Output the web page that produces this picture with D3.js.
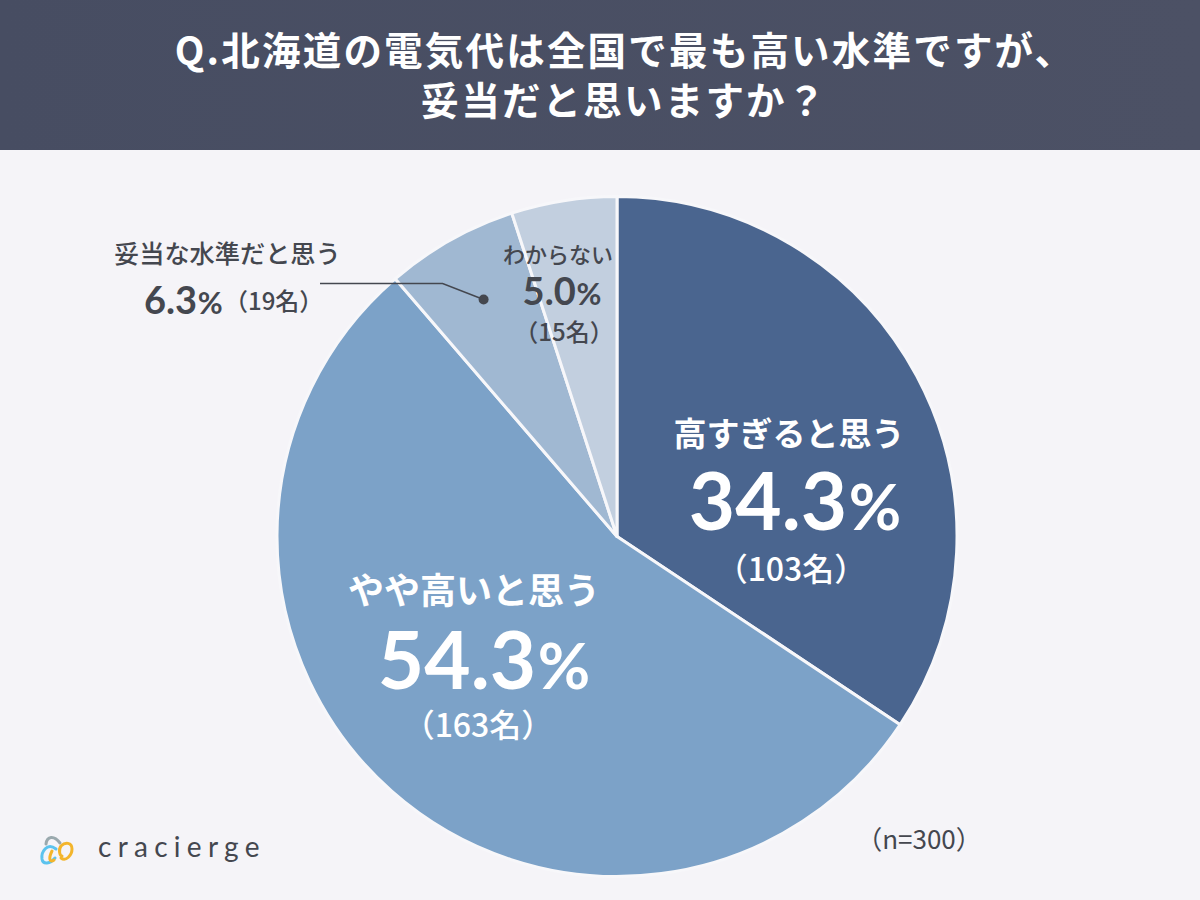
<!DOCTYPE html>
<html lang="ja">
<head>
<meta charset="utf-8">
<script src="https://cdn.jsdelivr.net/npm/d3@7/dist/d3.min.js"></script>
<style>
  html, body { margin: 0; padding: 0; background: #f5f4f8; }
  svg { display: block; }
  text { font-family: "Noto Sans CJK JP", "Noto Sans", sans-serif; font-weight: 500; }
  .pct { font-family: Lato, "Noto Sans", sans-serif; font-weight: 700; }
</style>
</head>
<body>
<svg id="chart" width="1200" height="900"></svg>
<script>
// Survey results
const categories = ["高すぎると思う", "やや高いと思う", "妥当な水準だと思う", "わからない"];
const percents = [34.3, 54.3, 6.3, 5.0];
const counts = [103, 163, 19, 15];
const sliceColors = ["#4a658f", "#7ca2c8", "#a0b8d2", "#c2cfdf"];
const titleLines = ["Q.北海道の電気代は全国で最も高い水準ですが、", "妥当だと思いますか？"];
const sampleNote = "（n=300）";
const brandName = "cracierge";

const width = 1200, height = 900;
const cx = 617, cy = 536.5, radius = 340;
const ink = "#44474f";

const svg = d3.select("#chart").attr("viewBox", [0, 0, width, height]);

// Header band
const defs = svg.append("defs");
const headerGrad = defs.append("linearGradient").attr("id", "headerFill");
headerGrad.append("stop").attr("offset", "0%").attr("stop-color", "#474d62");
headerGrad.append("stop").attr("offset", "100%").attr("stop-color", "#4c5165");
svg.append("rect").attr("width", width).attr("height", 150).attr("fill", "url(#headerFill)");

svg.append("g").selectAll("text").data(titleLines).join("text")
  .attr("x", (d, i) => i === 0 ? 625 : 624)
  .attr("y", (d, i) => 65 + i * 50)
  .attr("text-anchor", "middle")
  .attr("fill", "#ffffff")
  .attr("font-size", 38.5)
  .attr("letter-spacing", 2.2)
  .style("font-weight", 700)
  .text(d => d);

// Pie, clockwise from twelve o'clock in the survey's order
const pie = d3.pie().sort(null).value(d => d);
const arcs = pie(percents);
const arc = d3.arc().innerRadius(0).outerRadius(radius);

const chart = svg.append("g").attr("transform", `translate(${cx},${cy})`);
chart.selectAll("path").data(arcs).join("path")
  .attr("d", arc)
  .attr("fill", (d, i) => sliceColors[i])
  .attr("stroke", "#f7f7fa")
  .attr("stroke-width", 3)
  .attr("stroke-linejoin", "round");

// Percentage with a smaller % sign
function pctText(parent, x, y, size, value, anchor) {
  const t = parent.append("text").attr("class", "pct").attr("x", x).attr("y", y)
    .attr("text-anchor", anchor).attr("font-size", size);
  t.append("tspan").text(value.toFixed(1));
  t.append("tspan").attr("font-size", size * 0.8).attr("dx", size * 0.02).text("%");
  return t;
}

// Stacked label: category, percentage, head count
function stacked(xs, ys, i, sizes, color, weight) {
  const g = svg.append("g").attr("text-anchor", "middle").attr("fill", color);
  g.append("text").attr("x", xs[0]).attr("y", ys[0]).attr("font-size", sizes[0])
    .style("font-weight", weight).text(categories[i]);
  pctText(g, xs[1], ys[1], sizes[1], percents[i], "middle");
  g.append("text").attr("x", xs[2]).attr("y", ys[2]).attr("font-size", sizes[2]).text(`（${counts[i]}名）`);
}

stacked([789, 795, 791], [446, 530, 581], 0, [33, 80, 32], "#ffffff", 700);
stacked([474, 484, 478], [604, 689, 737], 1, [36, 80, 32], "#ffffff", 700);
stacked([558, 562, 564], [263, 305, 341], 3, [22, 38, 24], ink, 500);

// Callout for the narrow slice
const lbl = svg.append("g").attr("fill", ink);
lbl.append("text").attr("x", 114).attr("y", 263).attr("font-size", 25.2).text(categories[2]);
pctText(lbl, 144, 314, 38, percents[2], "start");
lbl.append("text").attr("x", 224).attr("y", 310).attr("font-size", 24).text(`（${counts[2]}名）`);

const dotArc = d3.arc().innerRadius(radius * 0.8).outerRadius(radius * 0.8);
const [dx, dy] = dotArc.centroid(arcs[2]);
const dot = [cx + dx, cy + dy];
svg.append("path")
  .attr("d", d3.line()([[320, dot[1] - 16], [dot[0] - 41, dot[1] - 16], dot]))
  .attr("fill", "none").attr("stroke", ink).attr("stroke-width", 1.5);
svg.append("circle").attr("cx", dot[0]).attr("cy", dot[1]).attr("r", 5).attr("fill", ink);

// Sample size
svg.append("text").attr("x", 919).attr("y", 849).attr("text-anchor", "middle")
  .attr("font-size", 26).attr("fill", ink).style("font-weight", 400).text(sampleNote);

// Brand mark and wordmark
const mark = svg.append("g").attr("fill", "none").attr("stroke-linecap", "round").attr("stroke-width", 3);
mark.append("path").attr("d", "M46 844 C47 836 54 835 60 843").attr("stroke", "#9aa9ae");
mark.append("path").attr("d", "M56 849 C47 842 41 852 42 859 C43 865 50 864 55 858").attr("stroke", "#5cc3ee");
mark.append("path").attr("d", "M52 851 C48 859 50 863 54 860 M61 858 C66 862 72 855 72 849 C72 842 65 842 61 846 C58 850 60 856 62 856").attr("stroke", "#f3b52c");
svg.append("text").attr("x", 98).attr("y", 857).attr("font-size", 28)
  .attr("letter-spacing", 6.3).attr("fill", ink)
  .style("font-family", "Lato, sans-serif").style("font-weight", 400).text(brandName);
</script>
</body>
</html>
